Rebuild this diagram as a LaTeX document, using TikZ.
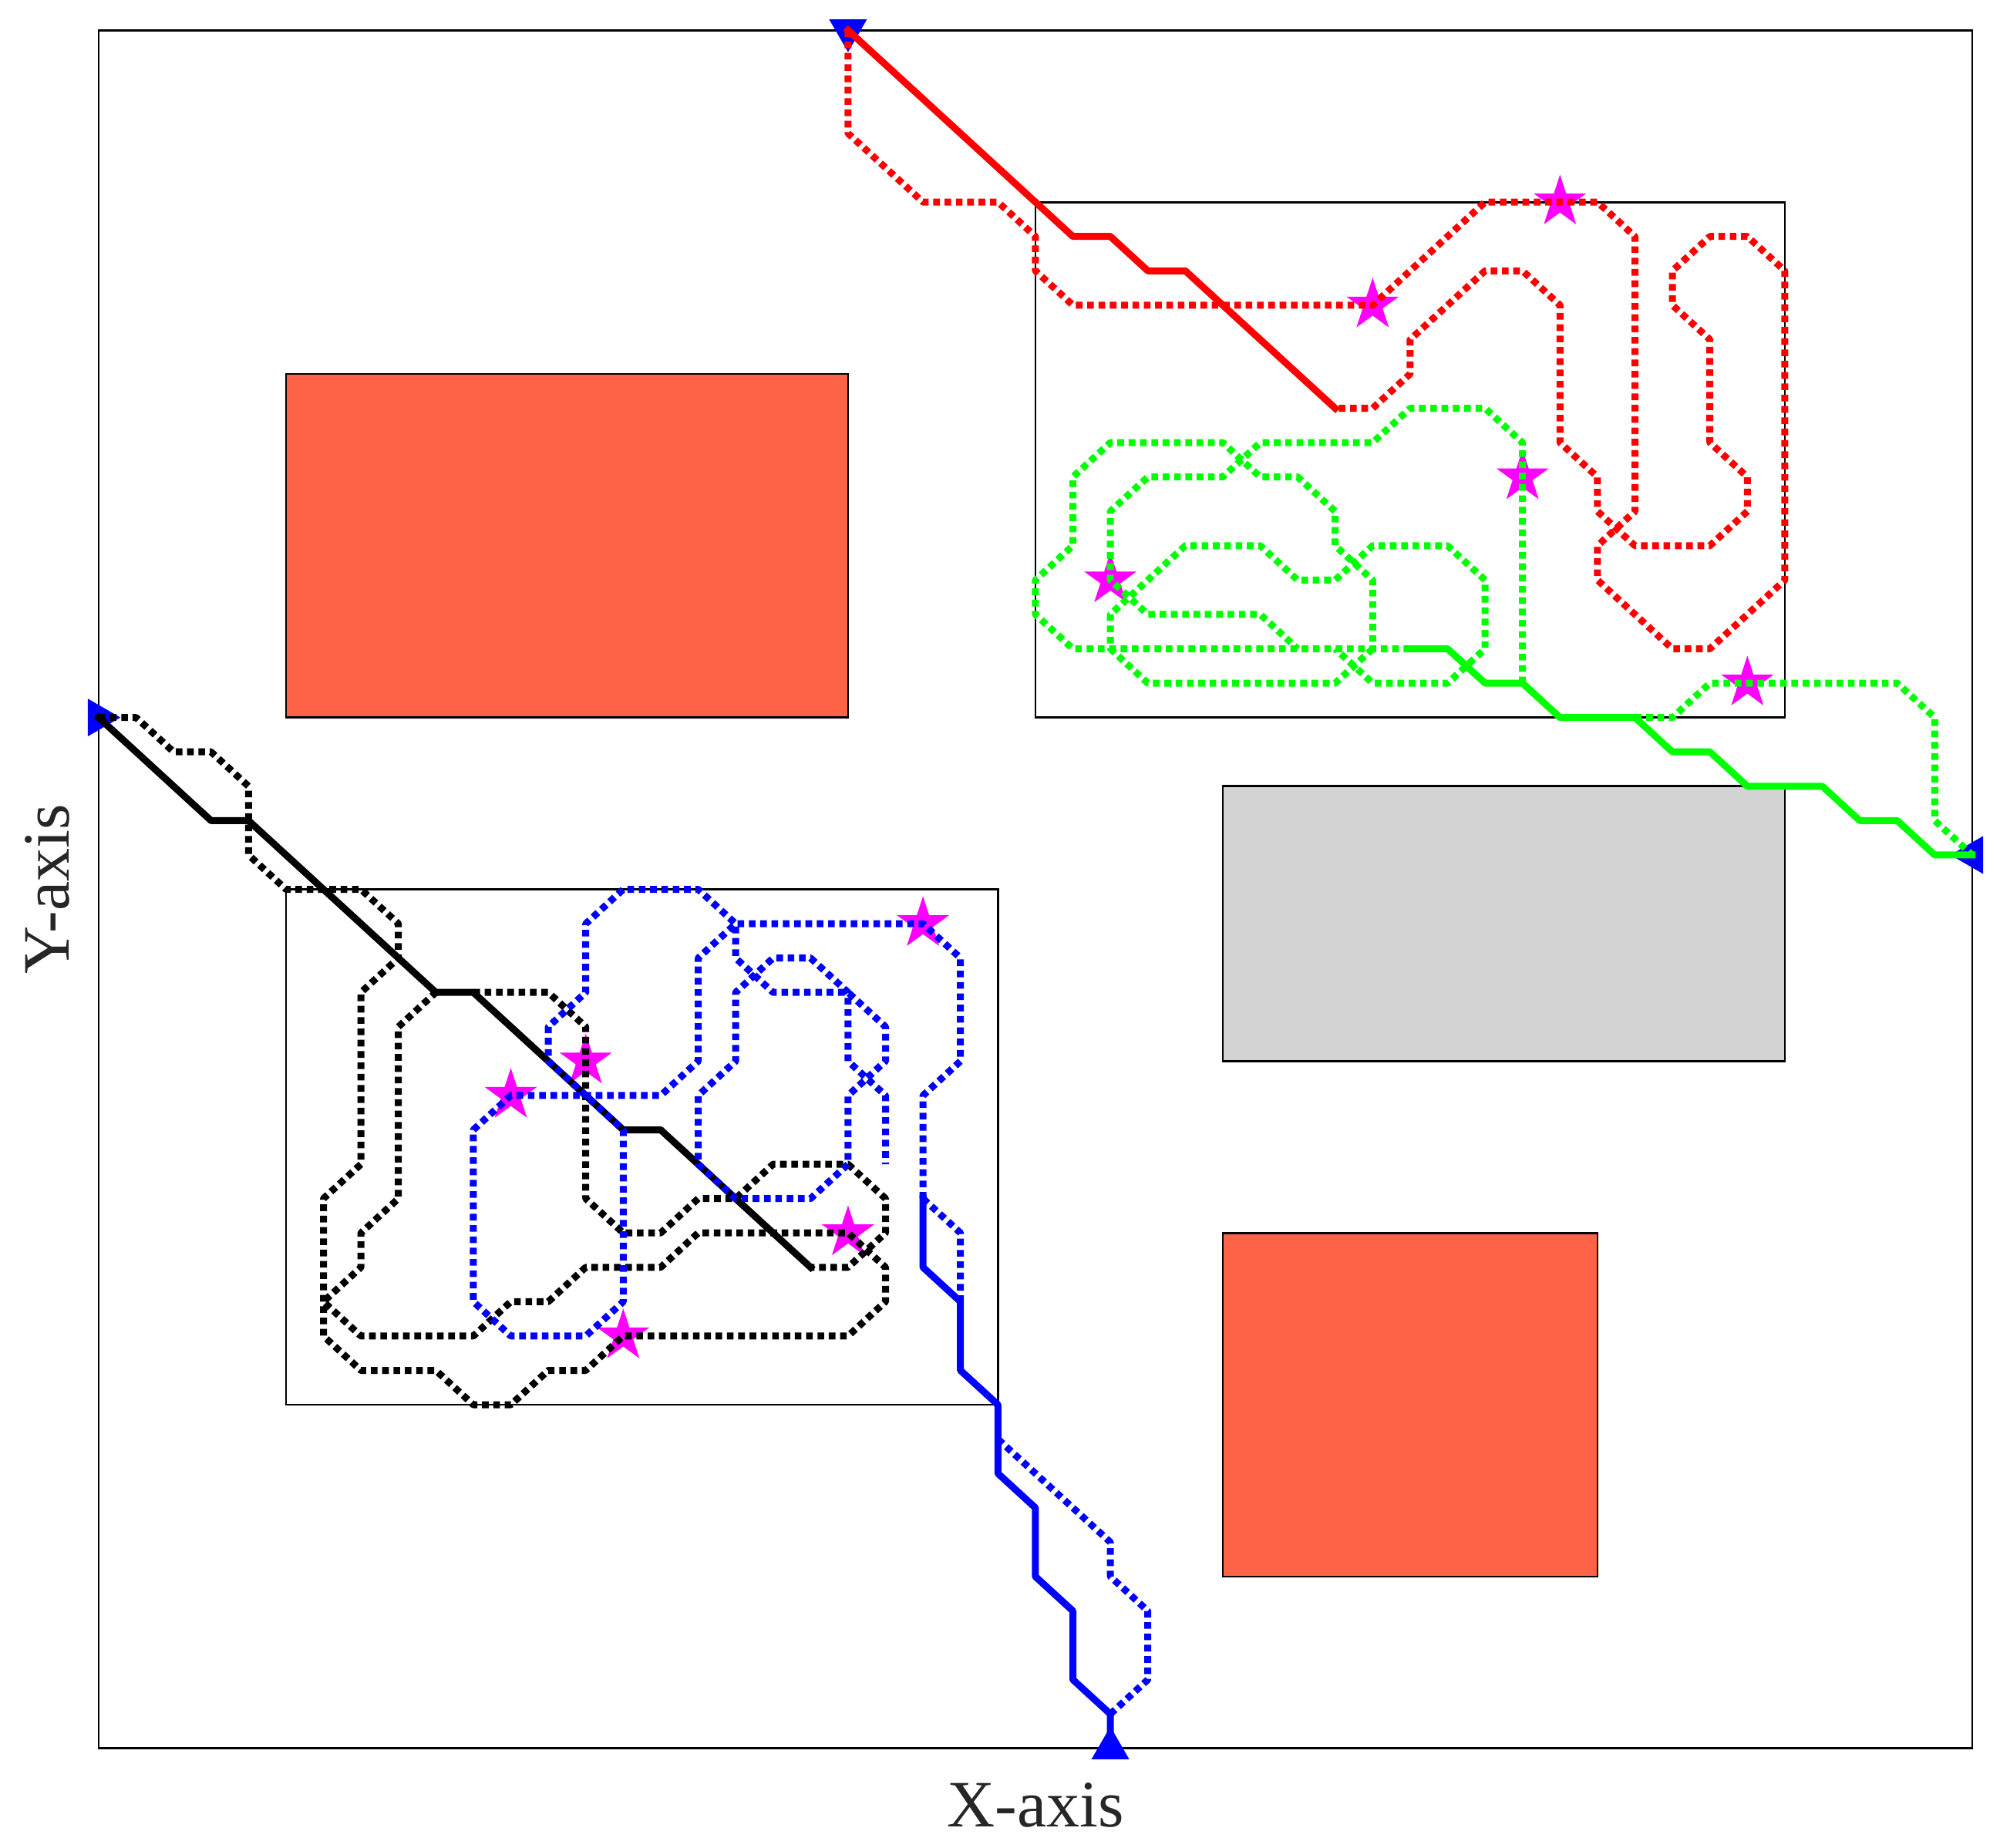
\documentclass[tikz,border=0pt]{standalone}
\usepackage{fontspec}
\setmainfont{Liberation Serif}
\usetikzlibrary{shapes.geometric}
\definecolor{tomato}{RGB}{255,99,71}
\definecolor{lgray}{RGB}{211,211,211}
\definecolor{pgreen}{RGB}{0,255,0}
\definecolor{pred}{RGB}{255,0,0}
\definecolor{pblue}{RGB}{0,0,255}
\definecolor{pmag}{RGB}{255,0,255}
\definecolor{axisgray}{RGB}{38,38,38}
\begin{document}
\begin{tikzpicture}[
  frame/.style={draw=black, line width=0.7pt},
  solidpath/.style={line width=2.25pt, line cap=rect, line join=round},
  dotpath/.style={line width=2.25pt, dash pattern=on 2.15pt off 1.52pt, line join=round},
  starmark/.style={star, star points=5, star point ratio=2.618, fill=pmag, draw=none, inner sep=0pt, minimum size=17.8pt},
  trimark/.style={regular polygon, regular polygon sides=3, fill=pblue, draw=none, inner sep=0pt, minimum size=14.15pt},
  axlabel/.style={font=\fontsize{21.5}{24}\selectfont, text=axisgray, inner sep=0pt, anchor=base},
]
\useasboundingbox (0,0) rectangle (648.5pt,599.25pt);
\begin{scope}[shift={(31.98pt,32.3pt)}, x=12.15pt, y=11.1425pt]
% frame and regions
\draw[frame] (0,0) rectangle (50,50);
\draw[frame, fill=tomato] (5,30) rectangle (20,40);
\draw[frame, fill=tomato] (30,5) rectangle (40,15);
\draw[frame, fill=lgray] (30,20) rectangle (45,28);
\draw[frame] (25,30) rectangle (45,45);
\draw[frame] (5,10) rectangle (24,25);
% stars
\node[starmark] (s1) at (39,45) {};
\node[starmark] (s2) at (34,42) {};
\node[starmark] (s3) at (38,37) {};
\node[starmark] (s4) at (27,34) {};
\node[starmark] (s5) at (44,31) {};
\node[starmark] (s6) at (22,24) {};
\node[starmark] (s7) at (13,20) {};
\node[starmark] (s8) at (11,19) {};
\node[starmark] (s9) at (20,15) {};
\node[starmark] (s10) at (14,12) {};
% triangles
\node[trimark, shape border rotate=180] (t1) at (20,50) {};
\node[trimark, shape border rotate=-90] (t2) at (0,30) {};
\node[trimark, shape border rotate=90] (t3) at (50,26) {};
\node[trimark] (t4) at (27,0) {};
% black
\draw[dotpath, black] (0,30) -- (1,30) -- (2,29) -- (3,29) -- (4,28) -- (4,26) -- (5,25) -- (7,25) -- (8,24) -- (8,23) -- (7,22) -- (7,17) -- (6,16) -- (6,12) -- (7,11) -- (9,11) -- (10,10) -- (11,10) -- (12,11) -- (13,11) -- (14,12) -- (20,12) -- (21,13) -- (21,14) -- (20,15) -- (16,15) -- (15,14) -- (13,14) -- (12,13) -- (11,13) -- (10,12) -- (7,12) -- (6,13) -- (7,14) -- (7,15) -- (8,16) -- (8,21) -- (9,22);
\draw[dotpath, black] (10,22) -- (12,22) -- (13,21) -- (13,16) -- (14,15) -- (15,15) -- (16,16) -- (17,16) -- (18,17) -- (20,17) -- (21,16) -- (21,15) -- (20,14) -- (19,14);
\draw[solidpath, black] (0,30) -- (3,27) -- (4,27) -- (9,22) -- (10,22) -- (14,18) -- (15,18) -- (19,14);
% red
\draw[dotpath, pred] (20,50) -- (20,47) -- (22,45) -- (24,45) -- (25,44) -- (25,43) -- (26,42) -- (34,42) -- (37,45) -- (40,45) -- (41,44) -- (41,36) -- (40,35) -- (40,34) -- (42,32) -- (43,32) -- (45,34) -- (45,43) -- (44,44) -- (43,44) -- (42,43) -- (42,42) -- (43,41) -- (43,38) -- (44,37) -- (44,36) -- (43,35) -- (41,35) -- (40,36) -- (40,37) -- (39,38) -- (39,42) -- (38,43) -- (37,43) -- (35,41) -- (35,40) -- (34,39) -- (33,39);
\draw[solidpath, pred] (20,50) -- (26,44) -- (27,44) -- (28,43) -- (29,43) -- (33,39);
% green
\draw[dotpath, pgreen] (41,30) -- (42,30) -- (43,31) -- (48,31) -- (49,30) -- (49,27) -- (50,26);
\draw[dotpath, pgreen] (38,31) -- (38,38) -- (37,39) -- (35,39) -- (34,38) -- (31,38) -- (30,37) -- (28,37) -- (27,36) -- (27,34) -- (28,33) -- (31,33) -- (32,32);
\draw[dotpath, pgreen] (35,32) -- (26,32) -- (25,33) -- (25,34) -- (26,35) -- (26,37) -- (27,38) -- (30,38) -- (31,37) -- (32,37) -- (33,36) -- (33,35) -- (34,34) -- (34,32);
\draw[dotpath, pgreen] (34,32) -- (33,31) -- (28,31) -- (27,32) -- (27,33) -- (29,35) -- (31,35) -- (32,34) -- (33,34) -- (34,35) -- (36,35) -- (37,34) -- (37,32) -- (36,31) -- (34,31) -- (33,32);
\draw[solidpath, pgreen] (35,32) -- (36,32) -- (37,31) -- (38,31) -- (39,30) -- (41,30) -- (42,29) -- (43,29) -- (44,28) -- (46,28) -- (47,27) -- (48,27) -- (49,26) -- (50,26);
% blue
\draw[dotpath, pblue] (22,16) -- (22,19) -- (23,20) -- (23,23) -- (22,24) -- (17,24) -- (16,23) -- (16,20) -- (15,19) -- (11,19) -- (10,18) -- (10,13) -- (11,12) -- (13,12) -- (14,13) -- (14,18) -- (12,20) -- (12,21) -- (13,22) -- (13,24) -- (14,25) -- (16,25) -- (17,24) -- (17,23) -- (18,22) -- (20,22) -- (21,21) -- (21,20) -- (20,19) -- (20,17) -- (19,16) -- (17,16) -- (16,17) -- (16,19) -- (17,20) -- (17,22) -- (18,23) -- (19,23) -- (20,22) -- (20,20) -- (21,19) -- (21,17);
\draw[dotpath, pblue] (22,16) -- (23,15) -- (23,13);
\draw[dotpath, pblue] (24,9) -- (27,6) -- (27,5) -- (28,4) -- (28,2) -- (27,1);
\draw[solidpath, pblue] (22,16) -- (22,14) -- (23,13) -- (23,11) -- (24,10) -- (24,8) -- (25,7) -- (25,5) -- (26,4) -- (26,2) -- (27,1) -- (27,0);
\end{scope}
\node[axlabel] (xl) at (335.8pt,6.75pt) {X-axis};
\node[axlabel, rotate=90] (yl) at (22.3pt,310.9pt) {Y-axis};
\end{tikzpicture}
\end{document}
